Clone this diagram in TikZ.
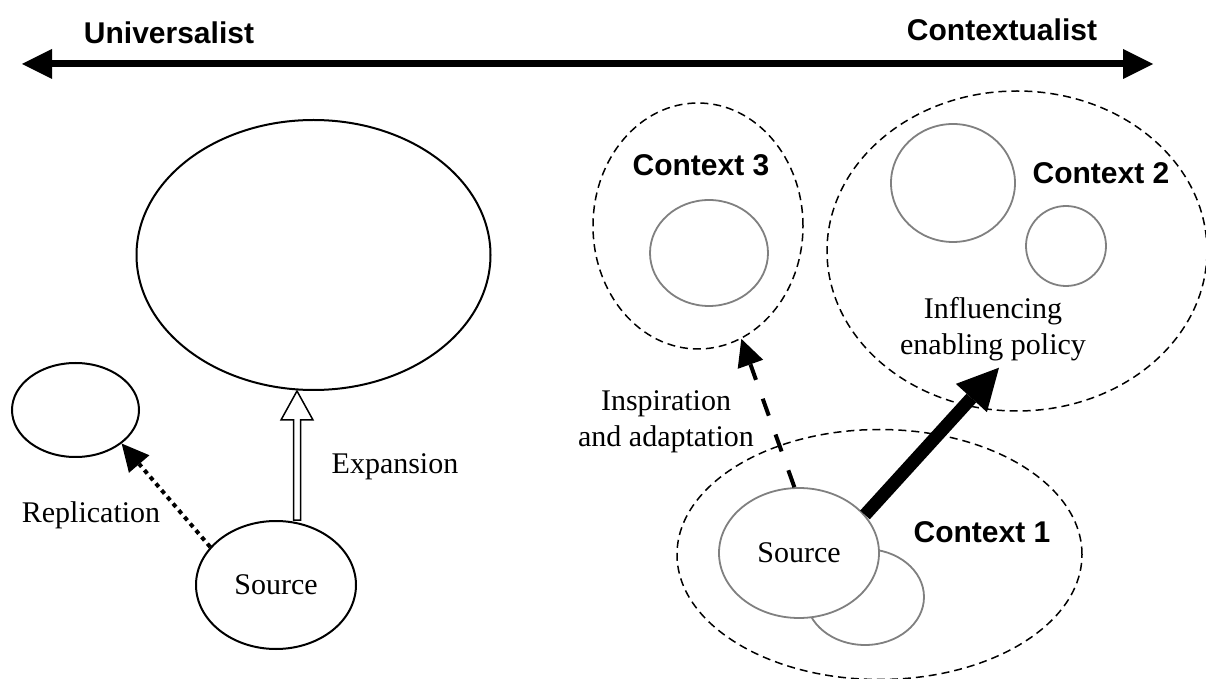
\documentclass[tikz,border=0pt]{standalone}
\usepackage{fontspec}
\setmainfont{Liberation Serif}
\setsansfont{Liberation Sans}
\usetikzlibrary{shapes.geometric,arrows.meta,calc}
\begin{document}
\begin{tikzpicture}[x=0.5pt,y=-0.5pt,
  every node/.style={font=\fontsize{15}{18}\selectfont},
  lbl/.style={inner sep=0pt},
  ctxlbl/.style={font=\sffamily\bfseries\fontsize{15}{18}\selectfont, inner sep=0pt},
  blackoval/.style={ellipse, draw, line width=1pt, inner sep=0pt, fill=white},
  grayoval/.style={ellipse, draw=gray, line width=0.9pt, inner sep=0pt, fill=white},
  ctxoval/.style={ellipse, draw, line width=0.75pt, dash pattern=on 4pt off 2.5pt, inner sep=0pt},
  tip/.style={-{Triangle[length=#1,width=#1,line width=0pt]}},
]
\useasboundingbox (0,0) rectangle (1206,679);

% spectrum axis
\coordinate (aL) at (22,64);
\coordinate (aR) at (1153,64);
\draw[line width=3.5pt, {Triangle[length=15pt,width=15pt,line width=0pt]}-{Triangle[length=15pt,width=15pt,line width=0pt]}] (aL) -- (aR);
\node[ctxlbl] (lu) at (169,33) {Universalist};
\node[ctxlbl] (lc) at (1002,30) {Contextualist};

% universalist side
\node[blackoval, minimum width=177pt, minimum height=135pt] (big) at (313.5,255) {};
\node[blackoval, minimum width=63.5pt, minimum height=47pt] (rep) at (75.5,410) {};
\node[blackoval, minimum width=80pt, minimum height=64pt] (srcL) at (276,585) {Source};

\node[lbl] (lrep) at (91,515) {Replication};
\node[lbl] (lexp) at (395,467) {Expansion};

\draw[line width=2pt, dash pattern=on 2.2pt off 2.2pt, tip=13.5pt] (srcL.150) -- (rep.-36);

% hollow expansion arrow
\coordinate (expx) at (297,0);
\path (expx |- big.south) coordinate (expT) (expx |- srcL.north) coordinate (expB);
\draw[line width=0.75pt, fill=white, line join=miter]
  (expT) -- ++(16,29) -- ++(-12.5,0) -- ($(expB)+(3.5,0)$) -- ($(expB)+(-3.5,0)$)
  -- ($(expT)+(-3.5,29)$) -- ++(-12.5,0) -- cycle;

% contextualist side
\node[ctxoval, minimum width=202.5pt, minimum height=125pt] (ctx1) at (879.5,554.5) {};
\node[ctxoval, minimum width=190pt, minimum height=160pt] (ctx2) at (1017,251) {};
\node[ctxoval, minimum width=105pt, minimum height=123pt] (ctx3) at (698,226) {};

\node[grayoval, minimum width=59pt, minimum height=48pt] (srcB) at (865,597) {};
\node[grayoval, minimum width=80pt, minimum height=65pt] (srcR) at (799,553) {Source};
\node[grayoval, minimum width=59pt, minimum height=53pt] (c3a) at (709,253) {};
\node[grayoval, minimum width=62pt, minimum height=59pt] (c2a) at (953,183) {};
\node[grayoval, minimum width=40pt, minimum height=40pt] (c2b) at (1066,246) {};

\node[ctxlbl] (l3) at (701,165) {Context 3};
\node[ctxlbl] (l2) at (1101,173) {Context 2};
\node[ctxlbl] (l1) at (982,532) {Context 1};

\node[lbl, align=center] (linsp) at (666,421.5) {Inspiration\\and adaptation};
\node[align=center, inner sep=3pt] (infl) at (993,329.5) {Influencing\\enabling policy};

\draw[line width=2pt, dash pattern=on 9pt off 10pt, tip=13.5pt] (srcR.94) -- (ctx3.-69);
\draw[line width=6.5pt, -{Triangle[length=20.5pt,width=21pt,line width=0pt]}] (srcR.30) -- ([xshift=3pt]infl.south);
\end{tikzpicture}
\end{document}
